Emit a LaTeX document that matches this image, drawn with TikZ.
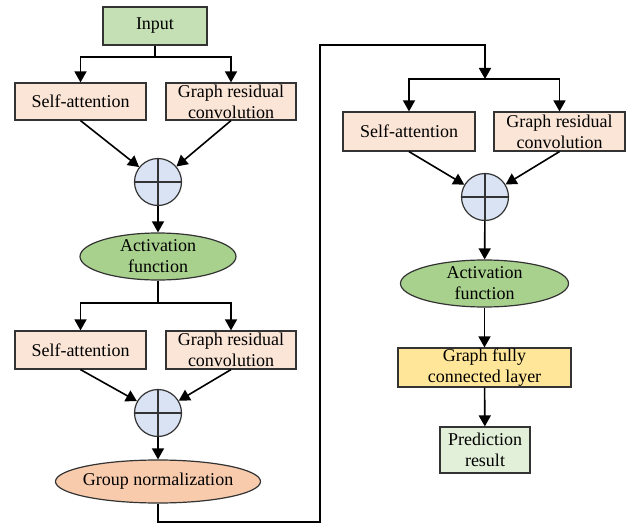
\documentclass[tikz,border=0pt]{standalone}
\usepackage{fontspec}
\setmainfont{Liberation Serif}
\usetikzlibrary{arrows.meta,shapes.geometric}
\definecolor{inputgreen}{HTML}{C5E0B4}
\definecolor{peach}{HTML}{FBE5D6}
\definecolor{sumblue}{HTML}{DAE3F3}
\definecolor{actgreen}{HTML}{A9D18E}
\definecolor{normorange}{HTML}{F8CBAD}
\definecolor{fcyellow}{HTML}{FFE699}
\definecolor{predgreen}{HTML}{E2F0D9}
\definecolor{edge}{HTML}{333333}
\begin{document}
\begin{tikzpicture}[x=1pt,y=-1pt,
  txt/.style={font=\fontsize{18}{21}\selectfont, align=center},
  box/.style={txt, draw=edge, line width=1.2pt, inner sep=0pt},
  ell/.style={ellipse, draw=edge, line width=1.2pt, inner sep=0pt},
  sumnode/.style={circle, draw=edge, line width=1.2pt, fill=sumblue, minimum size=47pt, inner sep=0pt,
    path picture={\draw[edge, line width=1.2pt] (path picture bounding box.north) -- (path picture bounding box.south)
      (path picture bounding box.west) -- (path picture bounding box.east);}},
  ln/.style={line width=1.6pt},
  arr/.style={line width=1.6pt, -{Triangle[length=11pt,width=12pt]}}]
\useasboundingbox (0,0) rectangle (635,527);

% left column
\node[box, fill=inputgreen, minimum width=104pt, minimum height=38pt] (in) at (155,26) {Input};
\node[box, fill=peach, minimum width=131pt, minimum height=37pt] (sa1) at (80.5,101.5) {Self-attention};
\node[box, fill=peach, minimum width=130pt, minimum height=37pt] (gr1) at (231,101.5) {Graph residual\\convolution};
\node[sumnode] (s1) at (158,182) {};
\node[ell, fill=actgreen, minimum width=156pt, minimum height=47pt,
  label={[txt]center:Activation\\function}] (act1) at (158,256.5) {};
\node[box, fill=peach, minimum width=131pt, minimum height=38pt] (sa2) at (80.5,350) {Self-attention};
\node[box, fill=peach, minimum width=130pt, minimum height=38pt] (gr2) at (231,350) {Graph residual\\convolution};
\node[sumnode] (s2) at (158,413) {};
\node[ell, fill=normorange, minimum width=205pt, minimum height=43pt,
  label={[txt]center:Group normalization}] (gn) at (158,481.5) {};

% right column
\node[box, fill=peach, minimum width=132pt, minimum height=39pt] (sa3) at (409,131.5) {Self-attention};
\node[box, fill=peach, minimum width=131pt, minimum height=39pt] (gr3) at (559.5,131.5) {Graph residual\\convolution};
\node[sumnode] (s3) at (485,197) {};
\node[ell, fill=actgreen, minimum width=168pt, minimum height=47pt,
  label={[txt]center:Activation\\function}] (act2) at (484.5,283.5) {};
\node[box, fill=fcyellow, minimum width=173pt, minimum height=39pt] (fc) at (484.5,367.5) {Graph fully\\connected layer};
\node[box, fill=predgreen, minimum width=90pt, minimum height=46pt] (pred) at (485,450) {Prediction\\result};

% junctions
\coordinate (j1) at (155,57);
\coordinate (j2) at (158,303);
\coordinate (j3) at (485,79);
\coordinate (c2) at (320,522);
\coordinate (c3) at (320,45);

% connectors
\draw[ln] (in.south) -- (j1);
\draw[arr] (j1) -| (sa1.north);
\draw[arr] (j1) -| (gr1.north);
\draw[arr] (sa1.south) -- (s1);
\draw[arr] (gr1.south) -- (s1);
\draw[arr] (s1) -- (act1);
\draw[ln] (act1.south) -- (j2);
\draw[arr] (j2) -| (sa2.north);
\draw[arr] (j2) -| (gr2.north);
\draw[arr] (sa2.south) -- (s2);
\draw[arr] (gr2.south) -- (s2);
\draw[arr] (s2) -- (gn);
\draw[arr] (gn.south) |- (c2) -- (c3) -| (j3);
\draw[arr] (j3) -| (sa3.north);
\draw[arr] (j3) -| (gr3.north);
\draw[arr] (sa3.south) -- (s3);
\draw[arr] (gr3.south) -- (s3);
\draw[arr] (s3) -- (act2);
\draw[arr] (act2) -- (fc);
\draw[arr] (fc) -- (pred);
\end{tikzpicture}
\end{document}
